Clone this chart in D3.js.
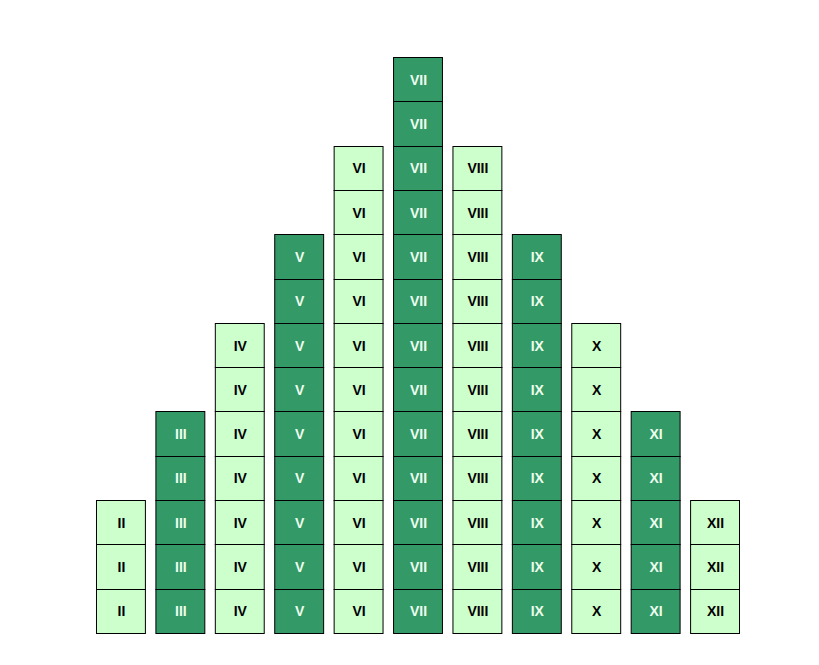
<!DOCTYPE html>
<html>
<head>
<meta charset="utf-8">
<script src="https://cdn.jsdelivr.net/npm/d3@7"></script>
<style>
    body { margin: 0; background: #fff; }
</style>
</head>
<body>
<div id="chart"></div>
<script>
// column labels and how many blocks are stacked in each
const categories = ["II", "III", "IV", "V", "VI", "VII", "VIII", "IX", "X", "XI", "XII"];
const counts = [3, 5, 7, 9, 11, 13, 11, 9, 7, 5, 3];
const maxCount = 13;

const width = 819;
const height = 665;

const svg = d3.select("#chart")
    .append("svg")
    .attr("width", width)
    .attr("height", height);

const x = d3.scaleBand()
    .domain(categories)
    .range([96, 740])
    .paddingInner(0.16)
    .paddingOuter(0);

const y = d3.scaleLinear()
    .domain([0, maxCount])
    .range([633, 57]);

// flatten into one cell per block
let cells = [];
categories.forEach((c, i)=>{
    for(let k=0; k<counts[i]; k++){
        cells.push({cat: c, idx: i, level: k});
    }
});

const fillFor = (d)=> d.idx % 2 === 0 ? "#ccffcc" : "#339966";
const textFor = (d)=> d.idx % 2 === 0 ? "#000000" : "#eeffee";

let cell = svg.append("g").attr("class", "cells")
    .selectAll("g")
    .data(cells)
    .enter()
    .append("g");

cell.append("rect")
    .attr("x", (d)=>x(d.cat) + 0.5)
    .attr("y", (d)=>Math.round(y(d.level + 1)) + 0.5)
    .attr("width", x.bandwidth() - 1)
    .attr("height", (d)=>Math.round(y(d.level)) - Math.round(y(d.level + 1)))
    .attr("fill", fillFor)
    .attr("stroke", "#000")
    .attr("stroke-width", 1);

cell.append("text")
    .attr("x", (d)=>x(d.cat) + x.bandwidth() / 2 + 0.5)
    .attr("y", (d)=>(y(d.level) + y(d.level + 1)) / 2 + 0.5)
    .attr("dy", "0.36em")
    .attr("text-anchor", "middle")
    .attr("font-family", "Liberation Sans, Arial, sans-serif")
    .attr("font-size", 14)
    .attr("font-weight", "bold")
    .attr("fill", textFor)
    .text((d)=>d.cat);
</script>
</body>
</html>
